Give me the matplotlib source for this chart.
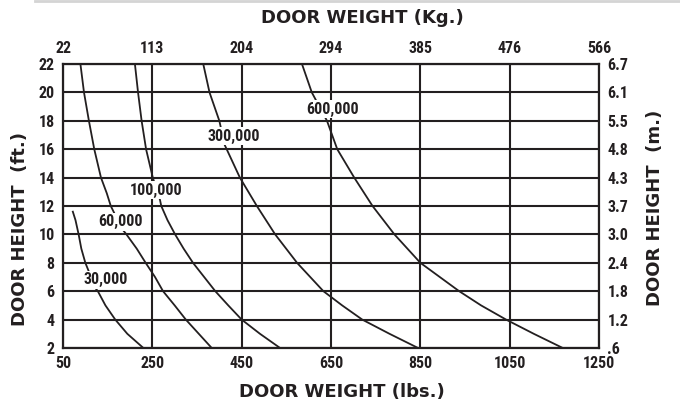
import matplotlib.pyplot as plt
from matplotlib.lines import Line2D

# axis ticks
lbs_ticks = [50, 250, 450, 650, 850, 1050, 1250]
kg_labels = ['22', '113', '204', '294', '385', '476', '566']
ft_ticks = [2, 4, 6, 8, 10, 12, 14, 16, 18, 20, 22]
m_labels = ['.6', '1.2', '1.8', '2.4', '3.0', '3.7', '4.3', '4.8', '5.5', '6.1', '6.7']

# cycle curves (weight lbs, height ft)
w_30k = [72, 78, 85, 91, 100, 123, 128, 145, 167, 194, 230]
h_30k = [11.6, 11, 10, 9, 8, 6.2, 6, 5, 4, 3, 2]
w_60k = [89, 97, 108, 120, 135, 148, 157, 182, 192, 215, 235, 256, 274, 300, 325, 354, 383]
h_60k = [22, 20, 18, 16, 14, 12.9, 12, 10.4, 10, 9, 8, 7, 6, 5, 4, 3, 2]
w_100k = [211, 218, 226, 236, 251, 267, 270, 284, 301, 320, 341, 366, 391, 420, 450, 491, 536]
h_100k = [22, 20, 18, 16, 14, 12.45, 12, 11, 10, 9, 8, 7, 6, 5, 4, 3, 2]
w_300k = [364, 378, 400, 412, 446, 484, 525, 574, 633, 675, 720, 781, 845]
h_300k = [22, 20, 18, 16.3, 14, 12, 10, 8, 6, 5, 4, 3, 2]
w_600k = [585, 607, 641, 664, 702, 743, 792, 850, 937, 986, 1042, 1104, 1169]
h_600k = [22, 20, 18, 16, 14, 12, 10, 8, 6, 5, 4, 3, 2]

cycle_labels = ['30,000', '60,000', '100,000', '300,000', '600,000']
label_x = [145, 179, 259, 432, 653]
label_y = [6.8, 10.9, 13.1, 16.9, 18.8]

ink = '#231f20'
narrow = ['Roboto Condensed', 'DejaVu Sans']

fig = plt.figure(figsize=(6.8, 4.05), dpi=100)
ax = fig.add_axes([63/680, 1 - 348/405, 536/680, 284/405])

for w, h in [(w_30k, h_30k), (w_60k, h_60k), (w_100k, h_100k),
             (w_300k, h_300k), (w_600k, h_600k)]:
    ax.plot(w, h, color=ink, lw=1.3, zorder=3, solid_joinstyle='round')

for txt, x, y in zip(cycle_labels, label_x, label_y):
    ax.text(x, y, txt, ha='center', va='center', fontsize=11.5,
            fontweight='bold', family=narrow, color=ink, zorder=5,
            bbox=dict(facecolor='white', edgecolor='none', pad=1.0))

ax.set_xlim(50, 1250)
ax.set_ylim(2, 22)
ax.set_xticks(lbs_ticks)
ax.set_yticks(ft_ticks)
ax.grid(True, color=ink, lw=1.5, zorder=1)
ax.set_axisbelow(True)
for s in ax.spines.values():
    s.set_color(ink)
    s.set_linewidth(1.6)
ax.tick_params(length=0, labelsize=11.5, labelcolor=ink, pad=6)
for lab in ax.get_xticklabels() + ax.get_yticklabels():
    lab.set_fontweight('bold')
    lab.set_family(narrow)

top = ax.secondary_xaxis('top')
top.set_xticks(lbs_ticks)
top.set_xticklabels(kg_labels)
right = ax.secondary_yaxis('right')
right.set_yticks(ft_ticks)
right.set_yticklabels(m_labels)
for sec in (top, right):
    sec.tick_params(length=0, labelsize=11.5, labelcolor=ink, pad=6)
    for s in sec.spines.values():
        s.set_visible(False)
for lab in top.get_xticklabels() + right.get_yticklabels():
    lab.set_fontweight('bold')
    lab.set_family(narrow)

title_kw = dict(fontsize=13, fontweight='bold', color=ink, family='DejaVu Sans')
fig.text(362/680, 1 - 18/405, 'DOOR WEIGHT (Kg.)', ha='center', va='center', **title_kw)
fig.text(342/680, 1 - 392/405, 'DOOR WEIGHT (lbs.)', ha='center', va='center', **title_kw)
fig.text(20/680, 1 - 229/405, 'DOOR HEIGHT  (ft.)', ha='center', va='center',
         rotation=90, **title_kw)
fig.text(655/680, 1 - 208/405, 'DOOR HEIGHT  (m.)', ha='center', va='center',
         rotation=90, **title_kw)

# thin grey rule along the top edge
fig.add_artist(Line2D([35/680, 1], [1 - 1/405, 1 - 1/405], color='#d4d4d4', lw=2))

fig.savefig('out.png', dpi=100)
